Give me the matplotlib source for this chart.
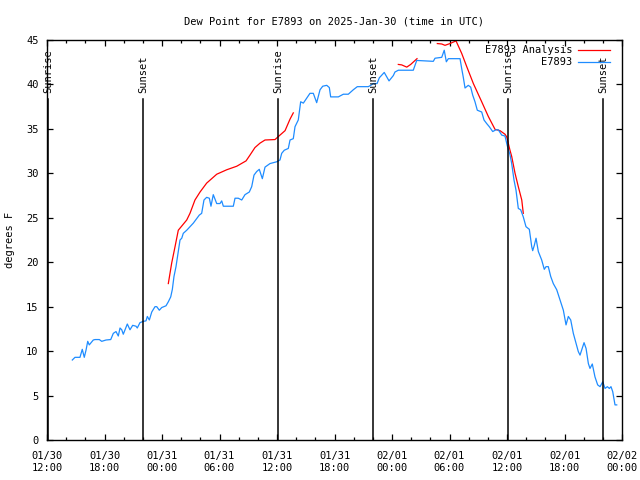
import numpy as np
import matplotlib
matplotlib.use("Agg")
import matplotlib.pyplot as plt
import matplotlib.dates as mdates
from datetime import datetime, timedelta

# ---- data (hours since 2025-01-30 12:00 UTC, dew point in degrees F) ----
obs_hours = [2.64, 2.92, 3.44, 3.68, 3.89, 4.07, 4.25, 4.41, 4.83, 5.01, 5.46, 5.71, 6.16, 6.65,
             6.92, 7.20, 7.44, 7.62, 7.80, 7.96, 8.38, 8.66, 8.94, 9.29, 9.42, 9.70, 10.05, 10.33,
             10.47, 10.68, 10.93, 11.27, 11.45, 11.72, 11.97, 12.42, 12.66, 12.91, 13.08, 13.25,
             13.46, 13.70, 13.88, 14.06, 14.22, 14.58, 15.10, 15.27, 15.89, 16.14, 16.38, 16.66,
             16.94, 17.11, 17.35, 17.71, 18.05, 18.23, 18.40, 19.44, 19.62, 19.96, 20.32, 20.66,
             21.11, 21.36, 21.60, 21.88, 22.15, 22.47, 22.75, 23.27, 23.97, 24.31, 24.49, 24.76,
             25.18, 25.36, 25.70, 25.88, 26.22, 26.47, 26.75, 27.00, 27.44, 27.79, 28.14, 28.49,
             28.77, 29.19, 29.46, 29.60, 30.40, 30.92, 31.44, 31.96, 32.38, 33.53, 33.78, 34.05,
             34.44, 34.68, 35.19, 35.69, 36.14, 36.31, 36.66, 38.22, 38.58, 40.31, 40.49, 41.19,
             41.45, 41.67, 41.88, 43.10, 43.27, 43.44, 43.62, 43.96, 44.21, 44.42, 44.66, 44.90,
             45.36, 45.60, 45.88, 46.15, 46.51, 46.85, 47.09, 47.45, 47.79, 48.03, 48.31, 48.49,
             48.73, 48.94, 49.18, 49.43, 49.70, 49.98, 50.33, 50.58, 50.68, 50.85, 51.03, 51.27,
             51.62, 51.89, 52.07, 52.31, 52.56, 52.83, 53.19, 53.53, 53.88, 54.16, 54.40, 54.65,
             54.92, 55.20, 55.44, 55.62, 55.90, 56.04, 56.25, 56.49, 56.66, 56.90, 57.18, 57.46,
             57.71, 57.99, 58.23, 58.47, 58.68, 58.85, 59.03, 59.27, 59.45]
obs_values = [9.0, 9.3, 9.3, 10.2, 9.3, 10.1, 11.1, 10.7, 11.25, 11.3, 11.3, 11.1, 11.25, 11.3,
              12.0, 12.2, 11.7, 12.6, 12.4, 11.9, 13.05, 12.4, 12.9, 12.8, 12.6, 13.2, 13.35, 13.4,
              13.9, 13.5, 14.4, 15.0, 15.0, 14.6, 14.9, 15.1, 15.55, 16.1, 16.95, 18.4,
              19.5, 21.2, 22.5, 22.7, 23.25, 23.6, 24.2, 24.4, 25.3, 25.5, 27.0, 27.3,
              27.2, 26.3, 27.6, 26.6, 26.6, 26.9, 26.3, 26.3, 27.2, 27.2, 27.0, 27.6,
              27.9, 28.5, 29.8, 30.2, 30.45, 29.4, 30.7, 31.1, 31.3, 31.5, 32.25, 32.6,
              32.8, 33.75, 33.9, 35.25, 36.0, 38.05, 37.9, 38.3, 39.0, 39.0, 37.95, 39.4,
              39.8, 39.9, 39.65, 38.6, 38.6, 38.9, 38.9, 39.4, 39.75, 39.75, 39.9, 40.1,
              40.1, 40.75, 41.35, 40.4, 41.0, 41.4, 41.6, 41.6, 42.7, 42.6, 42.95, 43.05,
              43.85, 42.55, 42.9, 42.9, 41.8, 40.8, 39.6, 39.9, 39.7, 38.8, 38.05, 37.1,
              36.9, 36.0, 35.6, 35.25, 34.7, 34.9, 34.9, 34.3, 34.2, 33.1, 32.1, 31.1,
              29.25, 28.1, 26.05, 25.9, 25.1, 24.0, 23.7, 21.75, 21.3, 21.9, 22.7, 21.2,
              20.25, 19.2, 19.5, 19.5, 18.4, 17.6, 16.9, 15.75, 14.6, 12.95, 13.9, 13.5,
              12.0, 10.9, 9.95, 9.55, 10.5, 10.95, 10.3, 8.6, 8.05, 8.55, 7.1, 6.2,
              6.0, 6.55, 5.8, 6.0, 5.8, 6.0, 5.45, 3.95, 3.95]

ana_hours = [12.66, 13.01, 13.36, 13.70, 14.58, 14.92, 15.44, 15.97, 16.66, 17.71, 18.75, 19.80,
             20.77, 21.18, 21.70, 22.23, 22.75, 23.79, 24.31, 24.84, 25.36, 25.70,
             np.nan,
             36.66, 37.01, 37.54, 37.95, 38.61,
             np.nan,
             40.73, 41.19, 41.53, 42.05, 42.68, 43.27, 43.80, 44.49, 45.36, 46.05, 46.75, 47.27,
             47.79, 47.97, 48.31, 48.49, 48.84, 49.18, 49.54, 49.70]
ana_values = [17.6, 19.9, 21.75, 23.6, 24.75, 25.5, 27.0, 27.9, 28.9, 29.9, 30.4, 30.8,
              31.4, 32.05, 32.9, 33.4, 33.75, 33.8, 34.3, 34.8, 36.1, 36.8,
              np.nan,
              42.25, 42.2, 41.95, 42.25, 42.9,
              np.nan,
              44.6, 44.55, 44.4, 44.6, 44.9, 43.5, 42.0, 40.1, 38.05, 36.4, 34.95, 34.8,
              34.4, 34.1, 32.6, 31.9, 30.0, 28.5, 27.0, 25.5]

sun_labels = ["Sunrise", "Sunset", "Sunrise", "Sunset", "Sunrise", "Sunset"]
sun_hours = [0.12, 10.05, 24.12, 34.05, 48.12, 58.05]

start = datetime(2025, 1, 30, 12, 0)
end = datetime(2025, 2, 2, 0, 0)


def to_num(hours):
    return np.array([mdates.date2num(start + timedelta(hours=float(h))) if not np.isnan(h)
                     else np.nan for h in hours])


FONT = "DejaVu Sans Mono"
FS = 7.5
plt.rcParams["font.family"] = [FONT]

fig = plt.figure(figsize=(6.4, 4.8), dpi=100)
ax = fig.add_axes([47 / 640, 1 - 440 / 480, 575 / 640, 400 / 480])

ax.plot(to_num(ana_hours), ana_values, color="#ff0000", lw=0.9, label="E7893 Analysis")
ax.plot(to_num(obs_hours), obs_values, color="#1e8cff", lw=0.9, label="E7893")

for lab, t in zip(sun_labels, to_num(sun_hours)):
    ax.axvline(t, ymin=0, ymax=(440 - 99) / 400, color="black", lw=1.1)
    ax.text(t, (440 - 93) / 400 * 45, lab, rotation=90, ha="center", va="bottom",
            fontsize=FS, family=FONT)

ax.set_xlim(mdates.date2num(start), mdates.date2num(end))
ax.set_ylim(0, 45)
ax.set_yticks(np.arange(0, 46, 5))
ax.xaxis.set_major_locator(mdates.HourLocator(byhour=[0, 6, 12, 18]))
ax.xaxis.set_minor_locator(mdates.HourLocator(byhour=range(0, 24, 2)))
ax.xaxis.set_major_formatter(mdates.DateFormatter("%m/%d\n%H:%M"))

ax.tick_params(which="both", direction="in", top=True, right=True, labelsize=FS, width=0.9)
ax.tick_params(which="major", length=4)
ax.tick_params(which="minor", length=2)
ax.tick_params(axis="x", pad=8)
ax.tick_params(axis="y", pad=6)
for lbl in ax.get_xticklabels() + ax.get_yticklabels():
    lbl.set_family(FONT)
for s in ax.spines.values():
    s.set_linewidth(1.0)

ax.set_ylabel("degrees F", fontsize=FS, family=FONT, labelpad=8)
ax.set_title("Dew Point for E7893 on 2025-Jan-30 (time in UTC)", fontsize=FS, family=FONT, pad=11)

leg = ax.legend(loc="upper right", frameon=False, markerfirst=False,
                bbox_to_anchor=(1 - 5 / 575, 1 + 2 / 400),
                handlelength=3.0, handletextpad=0.6, labelspacing=0.2, borderaxespad=0.3,
                prop={"family": FONT, "size": FS})

fig.savefig("out.png", dpi=100)
